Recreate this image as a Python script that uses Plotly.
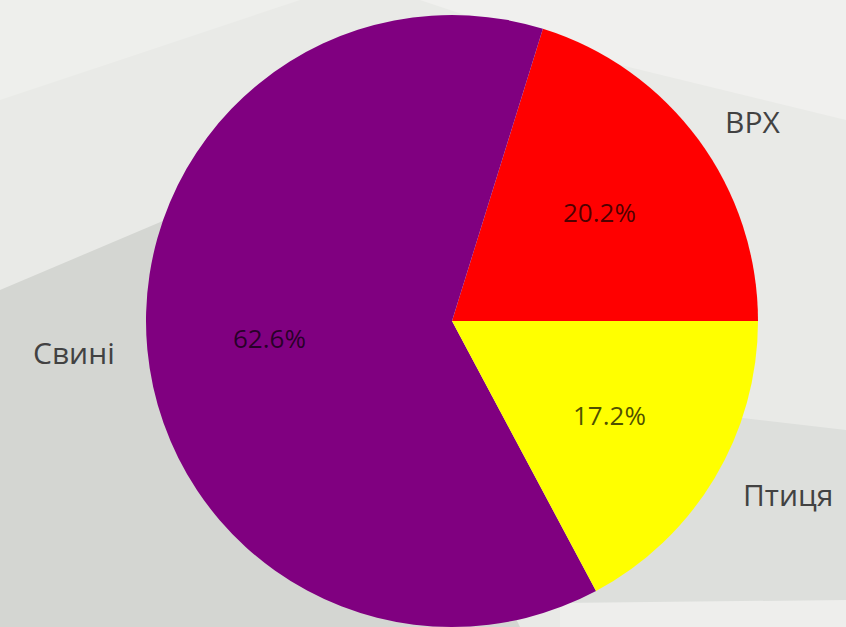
import math
import plotly.graph_objects as go

# ---- data ----
labels = ["ВРХ", "Свині", "Птиця"]
values = [20.2, 62.6, 17.2]
colors = ["#ff0000", "#800080", "#ffff00"]

# ---- layout geometry ----
W, H = 846, 627
ML, MR, MT, MB = 58, 0, 15, 0
PW, PH = W - ML - MR, H - MT - MB
R = min(PW, PH) / 2.0
CX, CY = ML + PW / 2.0, MT + PH / 2.0


def px2paper(x, y):
    return (x - ML) / PW, 1 - (y - MT) / PH


total = sum(values)
first_span = 360.0 * values[0] / total

fig = go.Figure()
fig.add_trace(go.Pie(
    labels=labels, values=values, sort=False, direction="counterclockwise",
    rotation=90 - first_span, marker=dict(colors=colors, line=dict(width=0)),
    textinfo="none", hoverinfo="label+percent", showlegend=False,
    domain=dict(x=[0, 1], y=[0, 1]),
))

# labels and percentages placed like matplotlib (1.1 r and 0.6 r at mid-angle)
annotations = []
start = 0.0
for lab, v in zip(labels, values):
    span = 360.0 * v / total
    mid = math.radians(start + span / 2)
    start += span
    c, s = math.cos(mid), math.sin(mid)
    lx, ly = px2paper(CX + 1.1 * R * c, CY - 1.1 * R * s)
    annotations.append(dict(
        x=lx, y=ly, xref="paper", yref="paper", text=lab, showarrow=False,
        xanchor="left" if c > 0 else "right", yanchor="middle",
        font=dict(family="Open Sans", size=30, color="#424242"),
    ))
    tx, ty = px2paper(CX + 0.6 * R * c, CY - 0.6 * R * s)
    annotations.append(dict(
        x=tx, y=ty, xref="paper", yref="paper", text=f"{100 * v / total:.1f}%",
        showarrow=False, xanchor="center", yanchor="middle",
        font=dict(family="Open Sans", size=26, color="rgba(0,0,0,0.7)"),
    ))


def poly(points, color):
    pts = [px2paper(x, y) for x, y in points]
    path = "M " + " L ".join(f"{x:.4f},{y:.4f}" for x, y in pts) + " Z"
    return dict(type="path", path=path, xref="paper", yref="paper",
                fillcolor=color, line=dict(width=0), layer="below")


shapes = [
    poly([(420, 0), (846, 0), (846, 120), (600, 60)], "#f0f0ee"),
    poly([(0, 0), (300, 0), (0, 100)], "#eeefec"),
    poly([(0, 290), (300, 163), (520, 627), (0, 627)], "#d4d6d2"),
    poly([(500, 390), (846, 430), (846, 603), (500, 603)], "#dddfdc"),
    poly([(560, 603), (846, 600), (846, 627), (560, 627)], "#eeeeec"),
]

fig.update_layout(
    width=W, height=H,
    margin=dict(l=ML, r=MR, t=MT, b=MB),
    paper_bgcolor="#e9eae7", plot_bgcolor="#e9eae7",
    annotations=annotations, shapes=shapes,
)

fig.write_html("out.html",
               config={"displayModeBar": False},
               post_script="document.body.style.margin='0';"
                           "document.body.style.overflow='hidden';")
